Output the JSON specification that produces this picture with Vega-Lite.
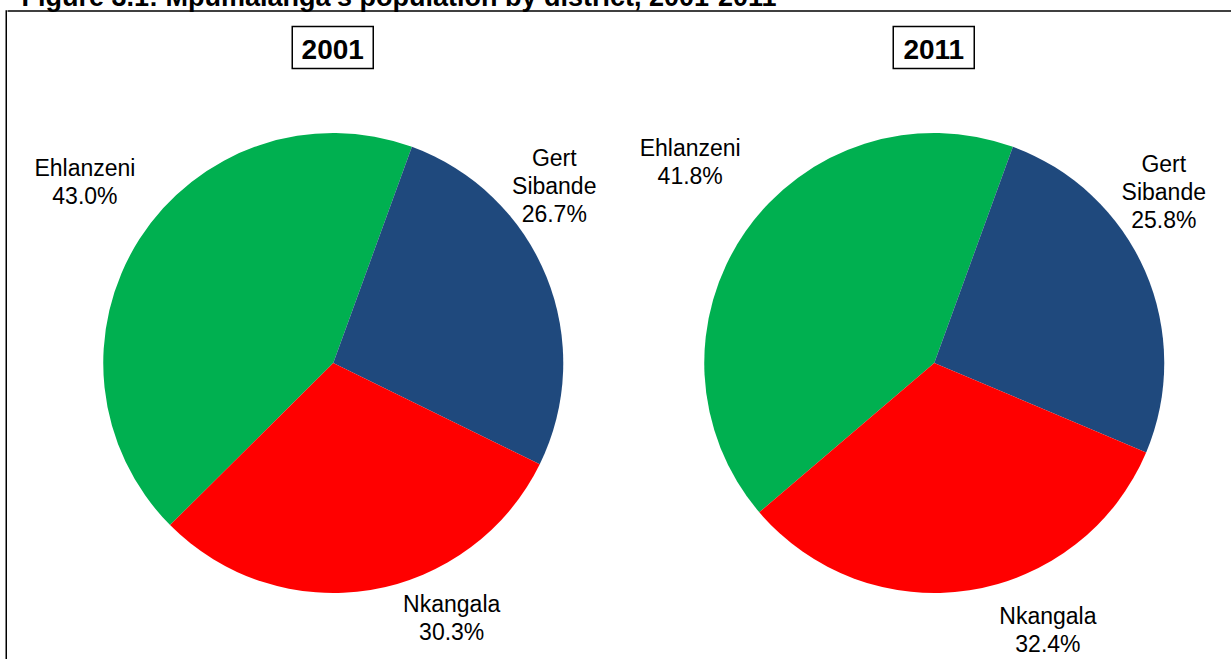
{
  "$schema": "https://vega.github.io/schema/vega-lite/v6.json",
  "background": "white",
  "padding": {"left": 5.25, "top": -16, "right": 0, "bottom": 0},
  "autosize": {"type": "pad"},
  "title": {
    "text": "Figure 3.1: Mpumalanga's population by district, 2001-2011",
    "anchor": "start",
    "font": "Liberation Sans",
    "fontSize": 27,
    "fontWeight": "bold",
    "color": "black",
    "offset": -2,
    "dx": 16
  },
  "datasets": {
    "districts": [
      {"year": "2001", "district": "Ehlanzeni", "share": 43.0},
      {"year": "2001", "district": "Gert Sibande", "share": 26.7},
      {"year": "2001", "district": "Nkangala", "share": 30.3},
      {"year": "2011", "district": "Ehlanzeni", "share": 41.8},
      {"year": "2011", "district": "Gert Sibande", "share": 25.8},
      {"year": "2011", "district": "Nkangala", "share": 32.4}
    ]
  },
  "config": {
    "view": {"stroke": null},
    "text": {"font": "Liberation Sans", "color": "black"}
  },
  "hconcat": [
    {
      "width": 0.001,
      "height": 649,
      "view": {"stroke": "black", "strokeWidth": 1.5},
      "data": {"values": [{}]},
      "mark": {"type": "text", "text": "", "fontSize": 0},
      "encoding": {}
    },
    {
      "vconcat": [
        {
          "width": 1223,
          "height": 0.001,
          "view": {"stroke": "black", "strokeWidth": 1.5},
          "data": {"values": [{}]},
          "mark": {"type": "text", "text": "", "fontSize": 0},
          "encoding": {}
        },
        {
          "hconcat": [
            {
              "width": 283.5,
              "height": 42,
              "view": {"fill": "transparent", "stroke": null},
              "data": {"values": [{}]},
              "mark": {"type": "text", "text": "", "fontSize": 0},
              "encoding": {}
            },
            {
              "width": 81,
              "height": 42,
              "view": {"stroke": "black", "strokeWidth": 1.5},
              "data": {"values": [{"year": "2001"}]},
              "mark": {"type": "text", "fontWeight": "bold", "fontSize": 28, "align": "center", "baseline": "middle", "dy": 3},
              "encoding": {"text": {"field": "year"}}
            },
            {
              "width": 520,
              "height": 42,
              "view": {"fill": "transparent", "stroke": null},
              "data": {"values": [{}]},
              "mark": {"type": "text", "text": "", "fontSize": 0},
              "encoding": {}
            },
            {
              "width": 81,
              "height": 42,
              "view": {"stroke": "black", "strokeWidth": 1.5},
              "data": {"values": [{"year": "2011"}]},
              "mark": {"type": "text", "fontWeight": "bold", "fontSize": 28, "align": "center", "baseline": "middle", "dy": 3},
              "encoding": {"text": {"field": "year"}}
            }
          ],
          "spacing": 0,
          "bounds": "flush"
        },
        {
          "hconcat": [
            {
              "width": 13.25,
              "height": 560,
              "view": {"fill": "transparent", "stroke": null},
              "data": {"values": [{}]},
              "mark": {"type": "text", "text": "", "fontSize": 0},
              "encoding": {}
            },
            {
              "width": 580,
              "height": 560,
              "data": {"name": "districts"},
              "transform": [
                {"filter": "datum.year === '2001'"},
                {"calculate": "replace(datum.district, ' ', '\\n') + '\\n' + format(datum.share, '.1f') + '%'", "as": "label"}
              ],
              "encoding": {
                "theta": {"field": "share", "type": "quantitative", "stack": true, "scale": {"range": [0.349066, 6.632251]}},
                "order": {"field": "share", "sort": "ascending"},
                "detail": {"field": "district"}
              },
              "layer": [
                {
                  "mark": {"type": "arc", "outerRadius": 230},
                  "encoding": {
                    "color": {"field": "district", "type": "nominal", "legend": null,
                      "scale": {"domain": ["Ehlanzeni", "Gert Sibande", "Nkangala"], "range": ["#00B050", "#1F497D", "#FF0000"]}}
                  }
                },
                {
                  "mark": {"type": "text", "radius": 290, "dx": -4, "dy": -37.4, "fontSize": 23, "lineHeight": 28, "lineBreak": "\n", "align": "center", "baseline": "middle"},
                  "encoding": {"text": {"condition": {"test": "datum.district === 'Ehlanzeni'", "field": "label"}, "value": ""}}
                },
                {
                  "mark": {"type": "text", "radius": 290, "dx": -48, "dy": -95.2, "fontSize": 23, "lineHeight": 28, "lineBreak": "\n", "align": "center", "baseline": "middle"},
                  "encoding": {"text": {"condition": {"test": "datum.district === 'Gert Sibande'", "field": "label"}, "value": ""}}
                },
                {
                  "mark": {"type": "text", "radius": 290, "dx": 71.4, "dy": -44.1, "fontSize": 23, "lineHeight": 28, "lineBreak": "\n", "align": "center", "baseline": "middle"},
                  "encoding": {"text": {"condition": {"test": "datum.district === 'Nkangala'", "field": "label"}, "value": ""}}
                }
              ]
            },
            {
              "width": 580,
              "height": 560,
              "data": {"name": "districts"},
              "transform": [
                {"filter": "datum.year === '2011'"},
                {"calculate": "replace(datum.district, ' ', '\\n') + '\\n' + format(datum.share, '.1f') + '%'", "as": "label"}
              ],
              "encoding": {
                "theta": {"field": "share", "type": "quantitative", "stack": true, "scale": {"range": [0.349066, 6.632251]}},
                "order": {"field": "share", "sort": "ascending"},
                "detail": {"field": "district"}
              },
              "layer": [
                {
                  "mark": {"type": "arc", "outerRadius": 230},
                  "encoding": {
                    "color": {"field": "district", "type": "nominal", "legend": null,
                      "scale": {"domain": ["Ehlanzeni", "Gert Sibande", "Nkangala"], "range": ["#00B050", "#1F497D", "#FF0000"]}}
                  }
                },
                {
                  "mark": {"type": "text", "radius": 290, "dx": -5.8, "dy": -48.6, "fontSize": 23, "lineHeight": 28, "lineBreak": "\n", "align": "center", "baseline": "middle"},
                  "encoding": {"text": {"condition": {"test": "datum.district === 'Ehlanzeni'", "field": "label"}, "value": ""}}
                },
                {
                  "mark": {"type": "text", "radius": 290, "dx": -36.3, "dy": -82.1, "fontSize": 23, "lineHeight": 28, "lineBreak": "\n", "align": "center", "baseline": "middle"},
                  "encoding": {"text": {"condition": {"test": "datum.district === 'Gert Sibande'", "field": "label"}, "value": ""}}
                },
                {
                  "mark": {"type": "text", "radius": 290, "dx": 69.3, "dy": -32.1, "fontSize": 23, "lineHeight": 28, "lineBreak": "\n", "align": "center", "baseline": "middle"},
                  "encoding": {"text": {"condition": {"test": "datum.district === 'Nkangala'", "field": "label"}, "value": ""}}
                }
              ]
            }
          ],
          "spacing": 21,
          "bounds": "flush"
        }
      ],
      "spacing": 13.5,
      "bounds": "full"
    }
  ],
  "spacing": 0,
  "bounds": "full"
}
